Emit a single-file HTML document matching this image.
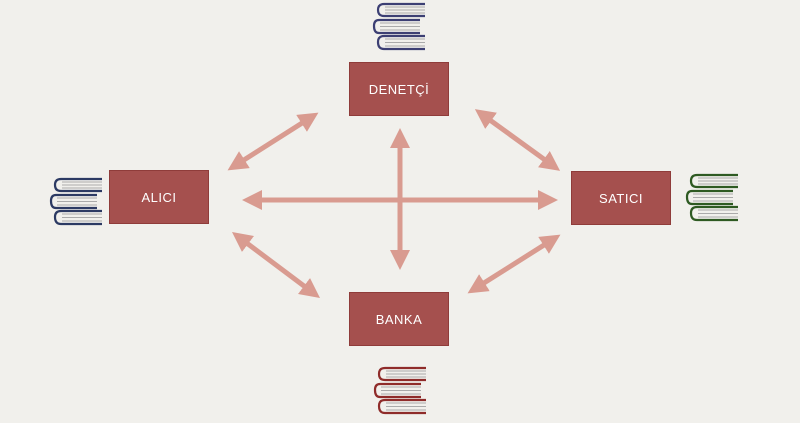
<!DOCTYPE html>
<html><head><meta charset="utf-8"><style>
body{margin:0;width:800px;height:423px;background:#f1f0ec;overflow:hidden;font-family:"Liberation Sans",sans-serif}
.box{position:absolute;width:98px;height:52px;background:#a5504e;border:1px solid #8f3c3a;color:#fff;font-size:13px;display:flex;align-items:center;justify-content:center;letter-spacing:.5px}
svg{position:absolute;left:0;top:0}
</style></head><body>
<svg width="800" height="423">
<defs>
<marker id="a" markerWidth="4" markerHeight="4" refX="2" refY="2" orient="auto-start-reverse" markerUnits="strokeWidth"><path d="M0,0 L4,2 L0,4 z" fill="#d99b90"/></marker>
<g id="bk" fill="none" stroke-width="2.2">
<path d="M52 1 H11 Q5 1 5 7 Q5 13 11 13 H52"/>
<path d="M12 4 H52 M12 7 H52 M12 10 H52" stroke="#aaa" stroke-width="1"/>
<path d="M47 17 H6 Q1 17 1 23 Q1 30 6 30 H47"/>
<path d="M7 20 H47 M7 23.5 H47 M7 27 H47" stroke="#aaa" stroke-width="1"/>
<path d="M52 33 H11 Q5 33 5 39 Q5 46 11 46 H52"/>
<path d="M12 36 H52 M12 39.5 H52 M12 43 H52" stroke="#aaa" stroke-width="1"/>
</g>
</defs>
<g stroke="#d99b90" stroke-width="5" marker-start="url(#a)" marker-end="url(#a)">
<line x1="310" y1="118" x2="236" y2="165"/>
<line x1="483" y1="115" x2="552" y2="165"/>
<line x1="240" y1="238" x2="312" y2="292"/>
<line x1="552" y1="240" x2="476" y2="288"/>
<line x1="252" y1="200" x2="548" y2="200"/>
<line x1="400" y1="138" x2="400" y2="260"/>
</g>
<use href="#bk" x="373" y="3" stroke="#3c3f73"/>
<use href="#bk" x="50" y="178" stroke="#2c3a63"/>
<use href="#bk" x="686" y="174" stroke="#2e5a22"/>
<use href="#bk" x="374" y="367" stroke="#8f2c2a"/>
</svg>
<div class="box" style="left:349px;top:62px">DENETÇİ</div>
<div class="box" style="left:109px;top:170px">ALICI</div>
<div class="box" style="left:571px;top:171px">SATICI</div>
<div class="box" style="left:349px;top:292px">BANKA</div>
</body></html>
